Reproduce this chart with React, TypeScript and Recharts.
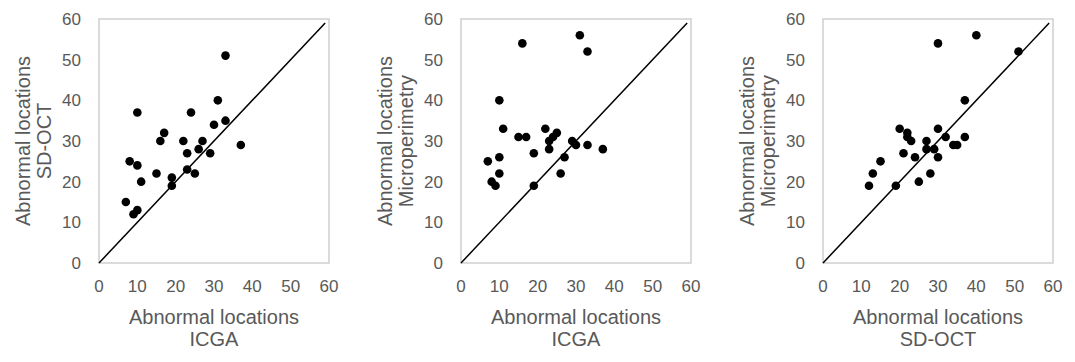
import React from 'react';
import { ScatterChart, Scatter, XAxis, YAxis, ReferenceArea, ReferenceLine, Label } from 'recharts';

// Panel 1: ICGA vs SD-OCT
const p1Icga = [33, 31, 10, 24, 33, 30, 17, 16, 22, 27, 37, 26, 23, 29, 8, 10, 15, 23, 25, 19, 11, 19, 7, 10, 9];
const p1SdOct = [51, 40, 37, 37, 35, 34, 32, 30, 30, 30, 29, 28, 27, 27, 25, 24, 22, 23, 22, 21, 20, 19, 15, 13, 12];

// Panel 2: ICGA vs Microperimetry
const p2Icga = [31, 16, 33, 10, 11, 22, 25, 15, 17, 24, 23, 29, 30, 33, 37, 23, 19, 10, 27, 7, 10, 26, 8, 9, 19];
const p2Micro = [56, 54, 52, 40, 33, 33, 32, 31, 31, 31, 30, 30, 29, 29, 28, 28, 27, 26, 26, 25, 22, 22, 20, 19, 19];

// Panel 3: SD-OCT vs Microperimetry
const p3SdOct = [40, 30, 51, 37, 20, 30, 22, 22, 23, 32, 37, 27, 34, 35, 27, 29, 21, 24, 30, 15, 13, 28, 25, 12, 19];
const p3Micro = [56, 54, 52, 40, 33, 33, 32, 31, 30, 31, 31, 30, 29, 29, 28, 28, 27, 26, 26, 25, 22, 22, 20, 19, 19];

const axisTicks = [0, 10, 20, 30, 40, 50, 60];
const identityLine = [0, 59];

const FONT = '"Liberation Sans", Arial, sans-serif';
const TEXT = '#595959';

type PanelProps = {
  xs: number[];
  ys: number[];
  xTitle: string[];
  yTitle: string[];
  left: number;
};

const Dot = (props: any) => <circle cx={props.cx} cy={props.cy} r={4.3} fill="#000" />;

function Panel({ xs, ys, xTitle, yTitle, left }: PanelProps) {
  const data = xs.map((x, i) => ({ x, y: ys[i] }));
  return (
    <div style={{ position: 'absolute', left, top: 0 }}>
      <ScatterChart width={340} height={362} margin={{ top: 19, right: 11, bottom: 19, left: 0 }}>
        <XAxis
          type="number"
          dataKey="x"
          domain={[0, 60]}
          ticks={axisTicks}
          axisLine={false}
          tickLine={false}
          tickMargin={11}
          height={80}
          tick={{ fill: TEXT, fontSize: 17, fontFamily: FONT }}
        >
          <Label
            content={(p: any) => {
              const vb = p.viewBox;
              const cx = vb.x + vb.width / 2;
              return (
                <text textAnchor="middle" fill={TEXT} fontSize={20} fontFamily={FONT}>
                  <tspan x={cx} y={324}>{xTitle[0]}</tspan>
                  <tspan x={cx} y={346}>{xTitle[1]}</tspan>
                </text>
              );
            }}
          />
        </XAxis>
        <YAxis
          type="number"
          dataKey="y"
          domain={[0, 60]}
          ticks={axisTicks}
          axisLine={false}
          tickLine={false}
          tickMargin={12}
          width={99}
          tick={{ fill: TEXT, fontSize: 17, fontFamily: FONT }}
        >
          <Label
            content={(p: any) => {
              const vb = p.viewBox;
              const cy = vb.y + vb.height / 2;
              return (
                <text transform="rotate(-90)" textAnchor="middle" fill={TEXT} fontSize={20} fontFamily={FONT}>
                  <tspan x={-cy} y={30}>{yTitle[0]}</tspan>
                  <tspan x={-cy} y={51}>{yTitle[1]}</tspan>
                </text>
              );
            }}
          />
        </YAxis>
        <ReferenceArea x1={0} x2={60} y1={0} y2={60} fill="none" stroke="#d0d0d0" strokeWidth={1.5} />
        <ReferenceLine
          segment={[
            { x: identityLine[0], y: identityLine[0] },
            { x: identityLine[1], y: identityLine[1] },
          ]}
          stroke="#000"
          strokeWidth={1.5}
        />
        <Scatter data={data} shape={Dot} isAnimationActive={false} />
      </ScatterChart>
    </div>
  );
}

export default function App() {
  return (
    <div style={{ position: 'absolute', left: 0, top: 0, width: 1075, height: 362, background: '#fff' }}>
      <Panel xs={p1Icga} ys={p1SdOct} xTitle={['Abnormal locations', 'ICGA']} yTitle={['Abnormal locations', 'SD-OCT']} left={0} />
      <Panel xs={p2Icga} ys={p2Micro} xTitle={['Abnormal locations', 'ICGA']} yTitle={['Abnormal locations', 'Microperimetry']} left={362} />
      <Panel xs={p3SdOct} ys={p3Micro} xTitle={['Abnormal locations', 'SD-OCT']} yTitle={['Abnormal locations', 'Microperimetry']} left={724} />
    </div>
  );
}
